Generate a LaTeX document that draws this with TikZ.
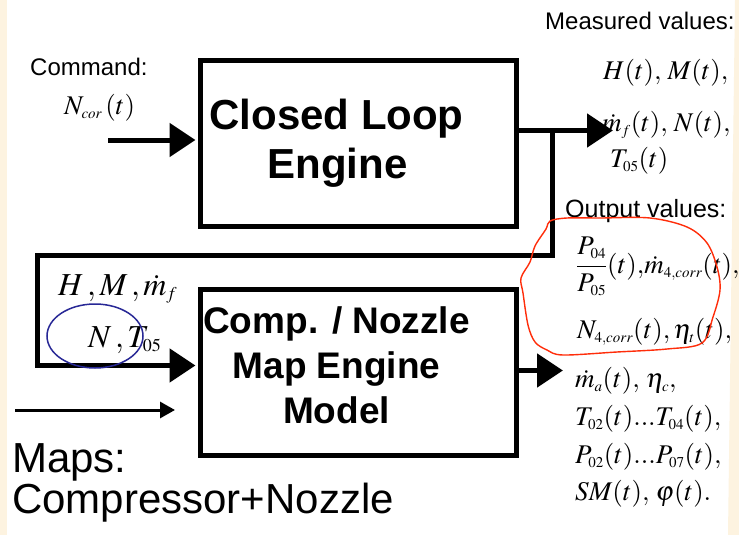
\documentclass[tikz,border=0pt]{standalone}
\usepackage{mathptmx}
\usepackage[no-math]{fontspec}
\setmainfont{Liberation Serif}
\newfontfamily\arial{Liberation Sans}
\usetikzlibrary{arrows.meta}

% math sizes for the formula labels: text, script, scriptscript
\DeclareMathSizes{27}{27}{15}{11}
\DeclareMathSizes{32}{32}{18}{13}

\definecolor{cream}{RGB}{253,243,224}
\definecolor{loopred}{RGB}{255,45,10}
\definecolor{ringblue}{RGB}{40,40,150}

\tikzset{
  box/.style={draw, line width=5pt, minimum width=316pt, minimum height=166pt, inner sep=0pt},
  lbl/.style={inner sep=0pt, anchor=base west},
  sans/.style={lbl, font=\arial\fontsize{24}{28}\selectfont},
  sanslarge/.style={lbl, font=\arial\fontsize{42}{48}\selectfont},
  mth/.style={lbl, font=\fontsize{27}{30}\selectfont},
  mthlarge/.style={lbl, font=\fontsize{32}{36}\selectfont},
  titleA/.style={anchor=base, inner sep=0pt, font=\arial\bfseries\fontsize{42}{48}\selectfont},
  titleB/.style={anchor=base, inner sep=0pt, font=\arial\bfseries\fontsize{37}{42}\selectfont},
  flow/.style={line width=5pt, -{Triangle[length=26pt,width=33pt]}},
  thinflow/.style={line width=3pt, -{Triangle[length=15pt,width=16pt]}},
}

\begin{document}
\begin{tikzpicture}[x=1pt,y=-1pt]
  % page and side strips
  \fill[white] (0,0) rectangle (739,535);
  \fill[cream] (0,0) rectangle (7,535);
  \fill[cream] (735,0) -- (739,0) -- (739,535) -- (728,535) -- cycle;
  \useasboundingbox (0,0) rectangle (739,535);

  % the two blocks
  \node[box] (eng) at (358.5,143.5) {};
  \node[box] (map) at (358.5,372.5) {};
  \node[titleA] (engA) at (336.5,129) {Closed Loop};
  \node[titleA] (engB) at (337.5,178) {Engine};
  \node[titleB] (mapA) at (336.5,333) {Comp. / Nozzle};
  \node[titleB] (mapB) at (336.5,378) {Map Engine};
  \node[titleB] (mapC) at (336.5,423) {Model};

  % command input
  \node[sans] (cmdtxt) at (30,75) {Command:};
  \node[mth] (ncor) at (64,114) {$N_{cor}\,(t)$};
  \coordinate (cmd) at (108,140);
  \draw[flow, shorten >=2.5pt] (cmd) -- (cmd -| eng.west);

  % measured outputs of the engine
  \coordinate (mtip) at (613,130.5);
  \draw[flow] (mtip -| eng.east) -- (mtip);
  \node[sans] (meas) at (545,30) {Measured values:};
  \node[mth] (m1) at (603,79) {$H(t),\,M(t),$};
  \node[mth] (m2) at (602,131) {$\dot m_{f}(t),\,N(t),$};
  \node[mth] (m3) at (610,167) {$T_{05}(t)$};

  % feedback of measured values into the map model
  \coordinate (br) at (552.5,130.5);
  \coordinate (fbR) at (552.5,255);
  \coordinate (fbL) at (37.5,255);
  \coordinate (fbin) at (37.5,365.5);
  \draw[flow, shorten >=2.5pt] (br) -- (fbR) -- (fbL) -- (fbin) -- (fbin -| map.west);
  \node[mthlarge] (fb1) at (58,295) {$H\,,M\,,\dot m_{f}$};
  \node[mthlarge] (fb2) at (88,347) {$N\,,T_{05}$};
  \draw[ringblue, line width=1.5pt] (95,336) ellipse [x radius=48, y radius=32];

  % map input
  \coordinate (mp0) at (15,410);
  \coordinate (mp1) at (175,410);
  \draw[thinflow] (mp0) -- (mp1);
  \node[sanslarge] (maps1) at (12,472) {Maps:};
  \node[sanslarge] (maps2) at (12,513) {Compressor+Nozzle};

  % outputs of the map model
  \coordinate (otip) at (563,370.5);
  \draw[flow] (otip -| map.east) -- (otip);
  \node[lbl, font=\arial\fontsize{25}{28}\selectfont] (outv) at (565,217) {Output values:};
  \node[mth] (o1) at (576,273) {$\displaystyle\frac{P_{04}}{P_{05}}(t),\!\dot m_{4,corr}(t),$};
  \node[mth] (o2) at (577,338) {$N_{4,corr}(t), \eta_{t}(t),$};
  \node[mth] (o3) at (575,387) {$\dot m_{a}(t),\,\eta_{c},$};
  \node[mth] (o4) at (575,425) {$T_{02}(t)...T_{04}(t),$};
  \node[mth] (o5) at (575,463) {$P_{02}(t)...P_{07}(t),$};
  \node[mth] (o6) at (575,500) {$SM(t),\,\varphi(t).$};

  % hand-drawn ring around the corrected outputs
  \draw[loopred, line width=1.4pt] plot[smooth cycle, tension=0.55] coordinates {
    (550,221) (567,218) (600,218) (650,218) (687,227) (707,243) (717,267)
    (720,290) (713,317) (702,343) (667,349) (617,352) (563,355) (547,350)
    (535,342) (528,325) (523,293) (521,278) (530,262) (535,246) (546,229)};
\end{tikzpicture}
\end{document}
